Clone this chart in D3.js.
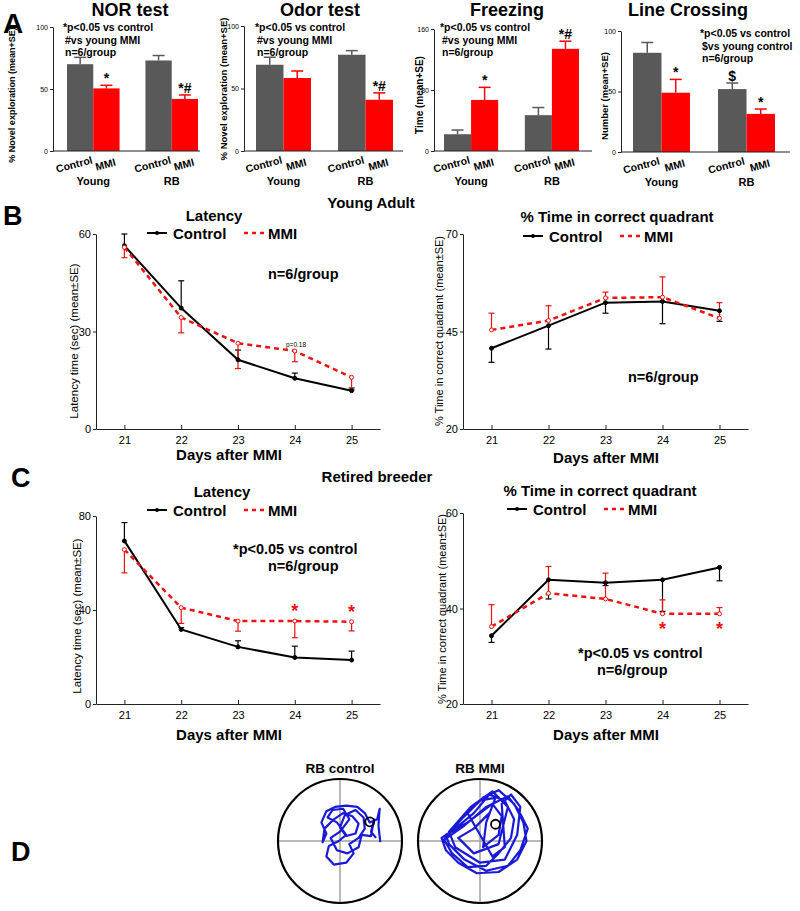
<!DOCTYPE html>
<html><head><meta charset="utf-8">
<script src="https://cdn.jsdelivr.net/npm/d3@7"></script>
<style>
body{margin:0;background:#fff}
svg{display:block}
text{font-family:"Liberation Sans",Arial,Helvetica,sans-serif}
</style>
</head><body>
<svg id="chart" width="800" height="911"></svg>
<script>
// ---------------- DATA ----------------
const groups = ["Young", "RB"];
const conditions = ["Control", "MMI"];

// Panel A (values per group: [Young, RB])
const norControl = [70, 73],   norControlSE = [5.5, 4.0];
const norMMI = [50.5, 42],     norMMISE = [2.5, 3.2];
const norMarks = ["", "*", "", "*#"];
const odorControl = [69, 77],  odorControlSE = [6.0, 3.3];
const odorMMI = [58.4, 41],    odorMMISE = [5.6, 5.5];
const odorMarks = ["", "", "", "*#"];
const freezeControl = [22, 47], freezeControlSE = [5.5, 10];
const freezeMMI = [67, 134],    freezeMMISE = [16.5, 10];
const freezeMarks = ["", "*", "", "*#"];
const lineControl = [82, 52],  lineControlSE = [8.5, 5.0];
const lineMMI = [49, 31.5],    lineMMISE = [11, 4.0];
const lineMarks = ["", "*", "$", "*"];
const notesA = ["*p<0.05 vs control", "#vs young MMI", "n=6/group"];
const notesLine = ["*p<0.05 vs control", "$vs young control", "n=6/group"];

// Panels B and C
const days = [21, 22, 23, 24, 25];
const bLatCtrl = [56.4, 37.2, 21.3, 15.6, 11.8], bLatCtrlSE = [3.6, 8.4, 3.0, 1.6, 0.8];
const bLatMMI  = [55.9, 34.3, 26.4, 24.0, 15.9], bLatMMISE  = [3.2, 4.7, 7.8, 3.3, 3.9];
const bQuadCtrl = [40.7, 46.5, 52.4, 52.7, 50.3], bQuadCtrlSE = [3.6, 6.0, 2.7, 5.7, 2.7];
const bQuadMMI  = [45.4, 47.8, 53.6, 53.8, 48.4], bQuadMMISE  = [4.3, 3.8, 1.5, 5.2, 4.0];
const cLatCtrl = [69.4, 31.7, 24.3, 19.8, 18.7], cLatCtrlSE = [7.8, 0.8, 2.6, 4.8, 3.8];
const cLatMMI  = [65.7, 41.0, 35.3, 35.3, 35.0], cLatMMISE  = [9.9, 6.7, 4.3, 7.1, 3.9];
const cQuadCtrl = [34.3, 46.0, 45.4, 46.0, 48.6], cQuadCtrlSE = [1.4, 4.0, 0.6, 6.6, 2.8];
const cQuadMMI  = [36.2, 43.2, 42.0, 38.9, 38.9], cQuadMMISE  = [4.6, 5.6, 5.4, 2.9, 1.3];
const cLatSigDays = [24, 25];
const cQuadSigDays = [24, 25];

// Panel D swim tracks (normalized pool coordinates, y up)
const trackControl = [[0.65,-0.02],[0.62,0.25],[0.64,0.52],[0.6,0.35],[0.48,0.3],[0.4,0.45],[0.28,0.55],[0.1,0.57],[-0.08,0.55],[-0.22,0.48],[-0.3,0.3],[-0.22,0.12],[-0.28,-0.02],[-0.25,0.2],[-0.1,0.35],[0.05,0.45],[0.2,0.4],[0.3,0.28],[0.25,0.12],[0.1,0.08],[0.0,0.22],[0.08,0.42],[0.25,0.5],[0.38,0.38],[0.4,0.2],[0.3,0.05],[0.15,-0.05],[0.22,-0.2],[0.1,-0.35],[-0.1,-0.38],[-0.22,-0.25],[-0.18,-0.08],[-0.02,0.0],[0.1,0.1],[-0.05,0.3],[-0.2,0.38],[-0.12,0.5],[0.05,0.52],[0.15,0.35],[0.0,0.15],[-0.15,0.05],[-0.05,-0.15],[0.12,-0.2],[0.3,-0.1],[0.35,0.1],[0.5,0.08],[0.55,0.35],[0.5,0.15],[0.58,0.05]];
const trackMMI = [[-0.6,0.0],[-0.3,0.35],[0.05,0.7],[0.3,0.82],[0.55,0.6],[0.7,0.3],[0.75,0.0],[0.6,-0.3],[0.3,-0.5],[-0.05,-0.52],[-0.35,-0.35],[-0.55,-0.15],[-0.62,0.05],[-0.4,0.2],[-0.1,0.45],[0.15,0.75],[0.4,0.65],[0.55,0.35],[0.5,0.05],[0.3,-0.2],[0.1,-0.4],[-0.2,-0.42],[-0.45,-0.2],[-0.58,0.02],[-0.25,0.25],[0.1,0.55],[0.45,0.72],[0.62,0.5],[0.77,0.2],[0.65,-0.15],[0.45,-0.4],[0.1,-0.48],[-0.25,-0.3],[-0.5,-0.05],[-0.55,0.1],[-0.2,0.3],[0.2,0.6],[0.35,0.4],[0.3,0.1],[0.05,-0.1],[0.1,0.3],[0.25,0.7],[0.0,0.65],[-0.2,0.45],[0.0,0.1],[0.2,-0.25],[0.4,-0.1],[0.35,0.6],[0.5,0.75],[0.65,0.55],[0.6,0.1],[0.4,-0.3],[0.0,-0.35],[-0.4,-0.1],[-0.5,0.15],[-0.15,0.55],[0.2,0.8],[0.45,0.55],[0.3,-0.05],[-0.1,-0.2],[-0.35,0.05],[-0.1,0.2],[0.15,0.45]];
const platformControl = [0.48, 0.31];
const platformMMI = [0.25, 0.27];

// ---------------- DRAWING ----------------
const svg = d3.select("#chart");
const GRAY = "#595959", RED = "#ff0000", LRED = "#ee1111";

function txt(p, x, y, s, size, o = {}) {
  const t = p.append("text").attr("x", x).attr("y", y).text(s)
    .style("font-size", size + "px").style("font-weight", o.weight || "bold")
    .attr("text-anchor", o.anchor || "start").attr("fill", o.fill || "#000");
  if (o.rotate != null) t.attr("transform", `rotate(${o.rotate},${x},${y})`);
  return t;
}

// ---- Panel A bar charts ----
const barPanels = [
  {title: "NOR test", tx: 130, x0: 53, x1: 200, b0: 14, b1: 145, yt: 27, yb: 151, max: 100, ticks: [0, 50, 100],
   ylab: "% Novel exploration (mean+SE)", ylx: 15, yly: 95, ylsize: 9,
   ctrl: norControl, ctrlSE: norControlSE, mmi: norMMI, mmiSE: norMMISE, marks: norMarks,
   notes: notesA, nx: 63, ny: 31},
  {title: "Odor test", tx: 320, x0: 244, x1: 403, b0: 12, b1: 149, yt: 26, yb: 151, max: 100, ticks: [0, 50, 100],
   ylab: "% Novel exploration (mean+SE)", ylx: 227, yly: 89, ylsize: 9.5,
   ctrl: odorControl, ctrlSE: odorControlSE, mmi: odorMMI, mmiSE: odorMMISE, marks: odorMarks,
   notes: notesA, nx: 255, ny: 31},
  {title: "Freezing", tx: 507, x0: 434, x1: 592, b0: 10, b1: 145, yt: 29, yb: 151, max: 160, ticks: [0, 80, 160],
   ylab: "Time (mean+SE)", ylx: 423, yly: 95, ylsize: 10,
   ctrl: freezeControl, ctrlSE: freezeControlSE, mmi: freezeMMI, mmiSE: freezeMMISE, marks: freezeMarks,
   notes: notesA, nx: 440, ny: 31},
  {title: "Line Crossing", tx: 688, x0: 621, x1: 790, b0: 12, b1: 154, yt: 31, yb: 152, max: 100, ticks: [0, 50, 100],
   ylab: "Number (mean+SE)", ylx: 608, yly: 96, ylsize: 9.5,
   ctrl: lineControl, ctrlSE: lineControlSE, mmi: lineMMI, mmiSE: lineMMISE, marks: lineMarks,
   notes: notesLine, nx: 700, ny: 37}
];

barPanels.forEach(cfg => {
  const g = svg.append("g");
  const y = d3.scaleLinear().domain([0, cfg.max]).range([cfg.yb, cfg.yt]);
  const xg = d3.scaleBand().domain(groups).range([cfg.x0 + cfg.b0, cfg.x0 + cfg.b1]).paddingInner(0.33).paddingOuter(0);
  const xc = d3.scaleBand().domain(conditions).range([0, xg.bandwidth()]).padding(0);

  const bars = [];
  groups.forEach((gr, i) => {
    bars.push({g: gr, c: "Control", v: cfg.ctrl[i], se: cfg.ctrlSE[i], col: GRAY, mark: cfg.marks[i * 2]});
    bars.push({g: gr, c: "MMI", v: cfg.mmi[i], se: cfg.mmiSE[i], col: RED, mark: cfg.marks[i * 2 + 1]});
  });

  bars.forEach(b => {
    const cx = xg(b.g) + xc(b.c) + xc.bandwidth() / 2;
    g.append("line").attr("x1", cx).attr("x2", cx).attr("y1", y(b.v)).attr("y2", y(b.v + b.se))
      .attr("stroke", b.col).attr("stroke-width", 1.5);
    g.append("line").attr("x1", cx - 6).attr("x2", cx + 6).attr("y1", y(b.v + b.se)).attr("y2", y(b.v + b.se))
      .attr("stroke", b.col).attr("stroke-width", 1.5);
  });
  g.selectAll("rect.bar").data(bars).join("rect")
    .attr("x", d => xg(d.g) + xc(d.c)).attr("width", xc.bandwidth())
    .attr("y", d => y(d.v)).attr("height", d => y(0) - y(d.v)).attr("fill", d => d.col);
  bars.forEach(b => {
    if (b.mark) {
      const cx = xg(b.g) + xc(b.c) + xc.bandwidth() / 2;
      txt(g, cx, y(b.v + b.se) - 2, b.mark, 14, {anchor: "middle"});
    }
  });

  const ya = g.append("g").attr("transform", `translate(${cfg.x0},0)`)
    .call(d3.axisLeft(y).tickValues(cfg.ticks).tickSize(3).tickSizeOuter(0).tickPadding(2));
  ya.selectAll("text").style("font-size", "7px").style("font-family", '"Liberation Sans",Arial,sans-serif');
  ya.selectAll("line,path").attr("stroke", "#222");
  g.append("line").attr("x1", cfg.x0).attr("x2", cfg.x1).attr("y1", y(0)).attr("y2", y(0)).attr("stroke", "#222");

  bars.forEach(b => {
    const cx = xg(b.g) + xc(b.c) + xc.bandwidth() / 2;
    const dx = b.c === "Control" ? -5 : 0;
    txt(g, cx + dx, cfg.yb + 17, b.c, 10.5, {anchor: "middle", rotate: -15});
  });
  groups.forEach(gr => {
    txt(g, xg(gr) + xg.bandwidth() / 2, cfg.yb + 34, gr, 11, {anchor: "middle"});
  });

  txt(g, cfg.tx, 16, cfg.title, 18, {anchor: "middle"});
  txt(g, cfg.ylx, cfg.yly, cfg.ylab, cfg.ylsize, {anchor: "middle", rotate: -90});
  cfg.notes.forEach((n, i) => txt(g, cfg.nx + (i === 0 ? 0 : 2), cfg.ny + i * 12.5, n, 10.5));
});

// Panel letters and section titles (on top)
txt(svg, 3, 33, "A", 28);
txt(svg, 3, 225, "B", 27);
txt(svg, 11, 487, "C", 27);
txt(svg, 11, 861, "D", 27);
txt(svg, 371, 208, "Young Adult", 15, {anchor: "middle"});
txt(svg, 377, 482, "Retired breeder", 15, {anchor: "middle"});

// ---- Panels B and C line charts ----
const linePanels = [
  {x0: 96, x1: 380, yt: 234, yb: 429, dom: [0, 60], ticks: [0, 30, 60],
   title: "Latency", tx: 214, ty: 221, lx: 147, ly: 233,
   ylab: "Latency time (sec) (mean±SE)", ylx: 78, yly: 341, ylsize: 11.5,
   xlab: "Days after MMI", xlx: 229, xly: 460,
   ctrl: bLatCtrl, ctrlSE: bLatCtrlSE, ctrlDir: 1, mmi: bLatMMI, mmiSE: bLatMMISE, mmiDir: -1,
   notes: [{t: "n=6/group", x: 268, y: 279}], sig: [], sigDy: 0},
  {x0: 463, x1: 748, yt: 234, yb: 429, dom: [20, 70], ticks: [20, 45, 70],
   title: "% Time in correct quadrant", tx: 617, ty: 222, lx: 523, ly: 236,
   ylab: "% Time in correct quadrant (mean±SE)", ylx: 443, yly: 331, ylsize: 11,
   xlab: "Days after MMI", xlx: 606, xly: 463,
   ctrl: bQuadCtrl, ctrlSE: bQuadCtrlSE, ctrlDir: -1, mmi: bQuadMMI, mmiSE: bQuadMMISE, mmiDir: 1,
   notes: [{t: "n=6/group", x: 628, y: 382}], sig: [], sigDy: 0},
  {x0: 96, x1: 380, yt: 516, yb: 704, dom: [0, 80], ticks: [0, 40, 80],
   title: "Latency", tx: 222, ty: 497, lx: 147, ly: 510,
   ylab: "Latency time (sec) (mean±SE)", ylx: 81, yly: 616, ylsize: 11.5,
   xlab: "Days after MMI", xlx: 229, xly: 740,
   ctrl: cLatCtrl, ctrlSE: cLatCtrlSE, ctrlDir: 1, mmi: cLatMMI, mmiSE: cLatMMISE, mmiDir: -1,
   notes: [{t: "*p<0.05 vs control", x: 233, y: 554}, {t: "n=6/group", x: 268, y: 571}],
   sig: cLatSigDays, sigDy: -4},
  {x0: 463, x1: 748, yt: 513, yb: 704, dom: [20, 60], ticks: [20, 40, 60],
   title: "% Time in correct quadrant", tx: 600, ty: 496, lx: 507, ly: 509,
   ylab: "% Time in correct quadrant (mean±SE)", ylx: 446, yly: 609, ylsize: 11,
   xlab: "Days after MMI", xlx: 606, xly: 740,
   ctrl: cQuadCtrl, ctrlSE: cQuadCtrlSE, ctrlDir: -1, mmi: cQuadMMI, mmiSE: cQuadMMISE, mmiDir: 1,
   notes: [{t: "*p<0.05 vs control", x: 578, y: 658}, {t: "n=6/group", x: 597, y: 675}],
   sig: cQuadSigDays, sigDy: 21}
];

linePanels.forEach(cfg => {
  const g = svg.append("g");
  const x = d3.scaleLinear().domain([20.5, 25.5]).range([cfg.x0, cfg.x1]);
  const y = d3.scaleLinear().domain(cfg.dom).range([cfg.yb, cfg.yt]);

  const ya = g.append("g").attr("transform", `translate(${cfg.x0},0)`)
    .call(d3.axisLeft(y).tickValues(cfg.ticks).tickSize(3).tickSizeOuter(0).tickPadding(2));
  const xa = g.append("g").attr("transform", `translate(0,${cfg.yb})`)
    .call(d3.axisBottom(x).tickValues(days).tickFormat(d3.format("d")).tickSize(-4).tickSizeOuter(0).tickPadding(7));
  [ya, xa].forEach(a => {
    a.selectAll("text").style("font-size", "11px").style("font-family", '"Liberation Sans",Arial,sans-serif').attr("fill", "#000");
    a.selectAll("line,path").attr("stroke", "#222");
  });

  const series = [
    {v: cfg.mmi, se: cfg.mmiSE, dir: cfg.mmiDir, col: LRED, dash: "5,4", w: 2.5, fill: "#fff"},
    {v: cfg.ctrl, se: cfg.ctrlSE, dir: cfg.ctrlDir, col: "#000", dash: null, w: 2, fill: "#000"}
  ];
  const order = [series[1], series[0]];
  order.forEach(s => {
    days.forEach((d, i) => {
      const x0 = x(d), ya0 = y(s.v[i]), ye = y(s.v[i] + s.dir * s.se[i]);
      g.append("line").attr("x1", x0).attr("x2", x0).attr("y1", ya0).attr("y2", ye).attr("stroke", s.col).attr("stroke-width", 1.2);
      g.append("line").attr("x1", x0 - 3).attr("x2", x0 + 3).attr("y1", ye).attr("y2", ye).attr("stroke", s.col).attr("stroke-width", 1.2);
    });
  });
  order.forEach(s => {
    const line = d3.line().x((d, i) => x(days[i])).y(d => y(d));
    g.append("path").attr("d", line(s.v)).attr("fill", "none").attr("stroke", s.col)
      .attr("stroke-width", s.w).attr("stroke-dasharray", s.dash);
    g.selectAll(null).data(s.v).join("circle")
      .attr("cx", (d, i) => x(days[i])).attr("cy", d => y(d)).attr("r", 2)
      .attr("fill", s.fill).attr("stroke", s.col).attr("stroke-width", 1);
  });

  cfg.sig.forEach(d => {
    const i = days.indexOf(d);
    txt(g, x(d), y(cfg.mmi[i]) + cfg.sigDy, "*", 18, {anchor: "middle", fill: LRED});
  });

  txt(g, cfg.tx, cfg.ty, cfg.title, 15, {anchor: "middle"});
  g.append("line").attr("x1", cfg.lx).attr("x2", cfg.lx + 20).attr("y1", cfg.ly).attr("y2", cfg.ly).attr("stroke", "#000").attr("stroke-width", 2);
  g.append("circle").attr("cx", cfg.lx + 10).attr("cy", cfg.ly).attr("r", 2).attr("fill", "#000");
  txt(g, cfg.lx + 26, cfg.ly + 5.5, "Control", 15);
  g.append("line").attr("x1", cfg.lx + 97).attr("x2", cfg.lx + 118).attr("y1", cfg.ly).attr("y2", cfg.ly)
    .attr("stroke", LRED).attr("stroke-width", 2.5).attr("stroke-dasharray", "4,4");
  txt(g, cfg.lx + 121, cfg.ly + 5.5, "MMI", 15);

  txt(g, cfg.ylx, cfg.yly, cfg.ylab, cfg.ylsize, {anchor: "middle", rotate: -90, weight: "normal"});
  txt(g, cfg.xlx, cfg.xly, cfg.xlab, 15, {anchor: "middle"});
  cfg.notes.forEach(n => txt(g, n.x, n.y, n.t, 14.5));
});
txt(svg, 286, 347, "p=0.18", 6.5, {weight: "normal"});

// ---- Panel D swim tracks ----
const pools = [
  {label: "RB control", cx: 340, cy: 841, r: 62, track: trackControl, plat: platformControl},
  {label: "RB MMI", cx: 480, cy: 841, r: 62, track: trackMMI, plat: platformMMI}
];
pools.forEach(p => {
  const g = svg.append("g");
  const xs = d3.scaleLinear().domain([-1, 1]).range([p.cx - p.r, p.cx + p.r]);
  const ys = d3.scaleLinear().domain([-1, 1]).range([p.cy + p.r, p.cy - p.r]);
  g.append("line").attr("x1", xs(-1)).attr("x2", xs(1)).attr("y1", ys(0)).attr("y2", ys(0)).attr("stroke", "#a0a0a0").attr("stroke-width", 1.5);
  g.append("line").attr("x1", xs(0)).attr("x2", xs(0)).attr("y1", ys(-1)).attr("y2", ys(1)).attr("stroke", "#a0a0a0").attr("stroke-width", 1.5);
  g.append("path").attr("d", d3.line().x(d => xs(d[0])).y(d => ys(d[1]))(p.track))
    .attr("fill", "none").attr("stroke", "#1a1ad6").attr("stroke-width", 2.2).attr("stroke-linejoin", "round");
  g.append("circle").attr("cx", xs(p.plat[0])).attr("cy", ys(p.plat[1])).attr("r", 4.5)
    .attr("fill", "none").attr("stroke", "#000").attr("stroke-width", 1.8);
  g.append("circle").attr("cx", xs(0)).attr("cy", ys(0)).attr("r", xs(1) - xs(0))
    .attr("fill", "none").attr("stroke", "#000").attr("stroke-width", 2.2);
  txt(g, p.cx, 773, p.label, 13.5, {anchor: "middle"});
});
</script>
</body></html>
